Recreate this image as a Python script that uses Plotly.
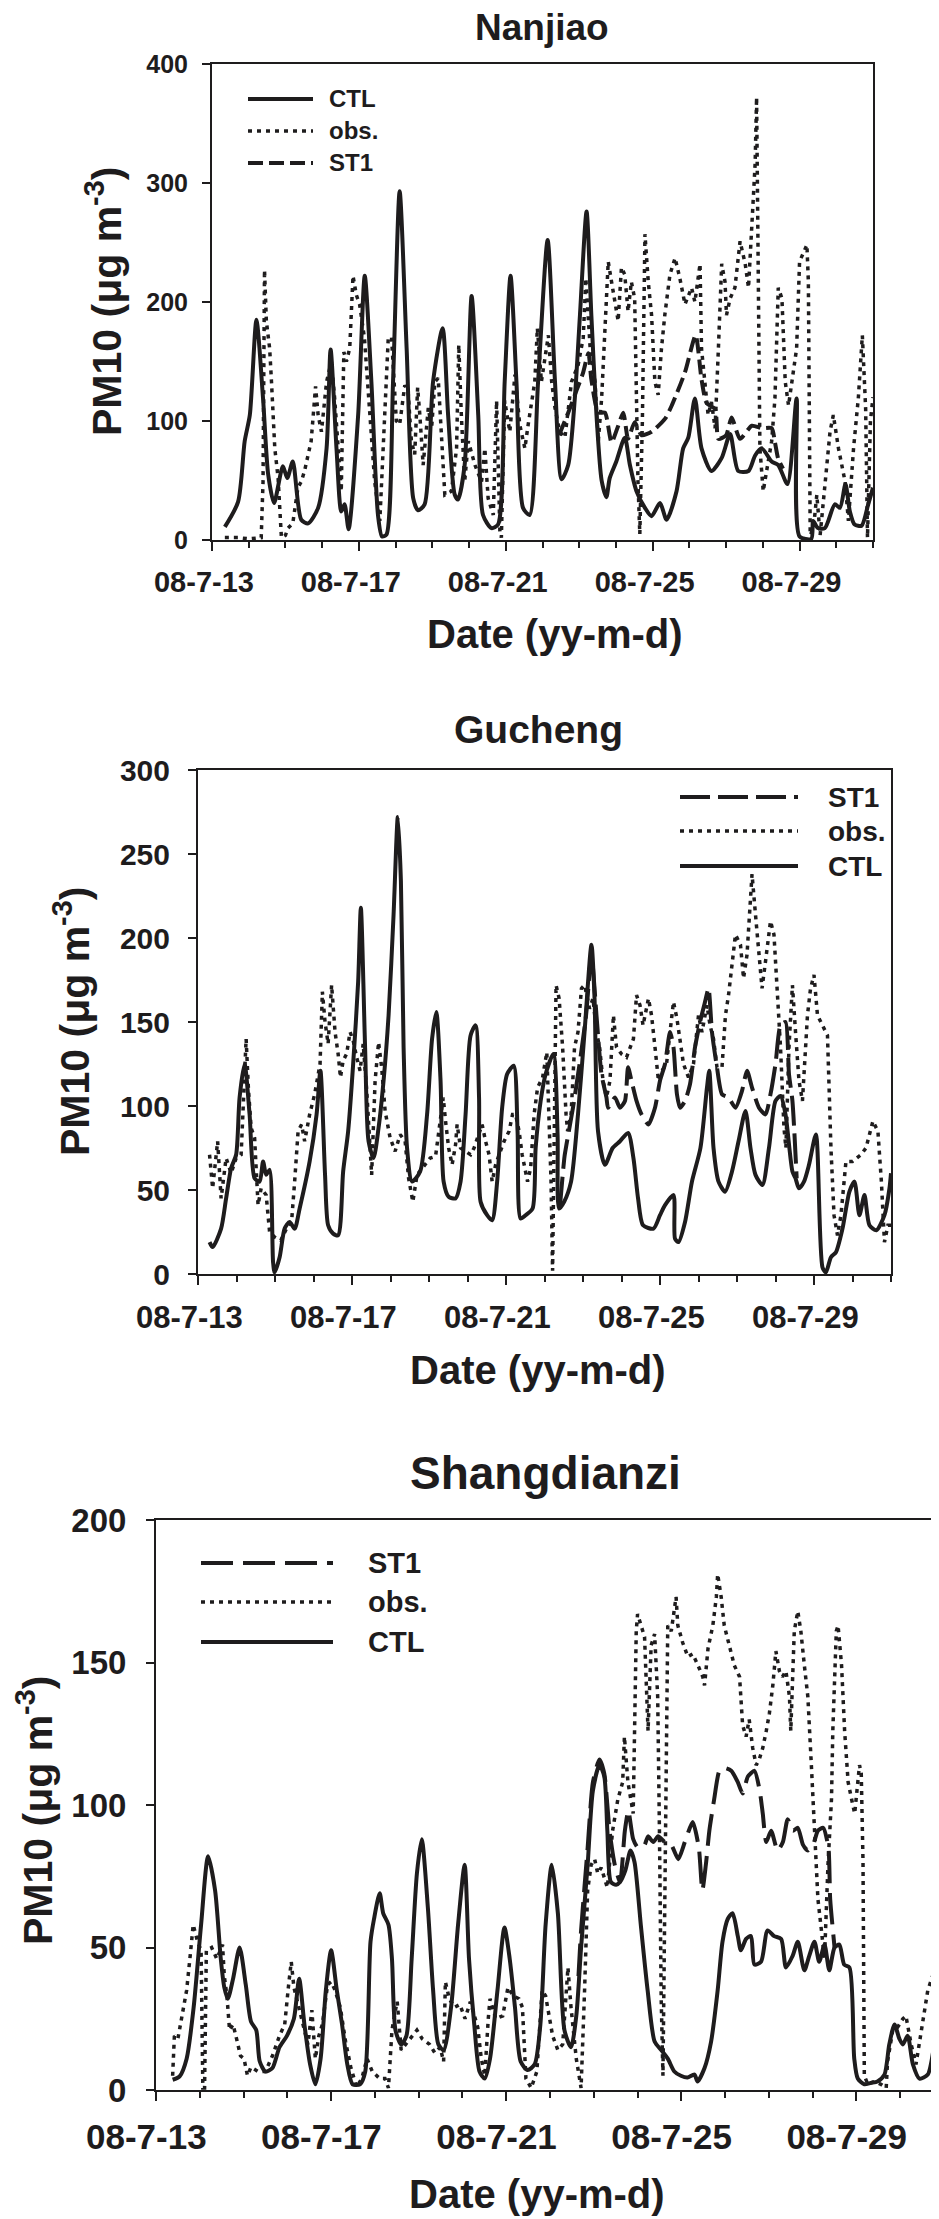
import plotly.graph_objects as go

W, H = 939, 2219
FONT = "Liberation Sans"
INK = "#1e1c1d"

date_ticks = [0, 4, 8, 12, 16]
date_labels = ["08-7-13", "08-7-17", "08-7-21", "08-7-25", "08-7-29"]
series_names = ["CTL", "obs.", "ST1"]

# ---------------- Nanjiao (time = days after 08-7-13 00:00) ----------------
nj_ctl_t = [0.35, 0.71, 0.89, 1.03, 1.21, 1.39, 1.53, 1.69, 1.93, 2.05, 2.2, 2.43, 2.62, 2.89, 3.12, 3.23,
            3.39, 3.52, 3.61, 3.72, 3.98, 4.16, 4.34, 4.52, 4.63, 4.75, 4.93, 5.11, 5.3, 5.48, 5.61, 5.79,
            6.02, 6.28, 6.43, 6.61, 6.7, 6.88, 7.07, 7.25, 7.38, 7.61, 7.79, 7.97, 8.13, 8.29, 8.47, 8.65,
            8.88, 9.14, 9.34, 9.52, 9.7, 9.88, 10.02, 10.2, 10.33, 10.47, 10.61, 10.74, 10.83, 11.01, 11.24,
            11.38, 11.56, 11.79, 11.97, 12.2, 12.38, 12.65, 12.83, 12.97, 13.15, 13.33, 13.6, 13.88, 14.11,
            14.33, 14.61, 14.79, 14.97, 15.24, 15.42, 15.67, 15.92, 16.0, 16.32, 16.37, 16.5, 16.69, 16.96,
            17.1, 17.25, 17.37, 17.5, 17.69, 17.87, 18.0]
nj_ctl_v = [11, 32, 83, 105, 185, 119, 55, 31, 62, 52, 66, 17, 14, 27, 77, 160,
            77, 24, 30, 9, 105, 222, 133, 21, 3, 4.5, 133, 293, 161, 35, 25, 30,
            133, 178, 105, 38, 34, 63, 205, 105, 21, 10, 13, 133, 222, 133, 27, 21,
            133, 252, 133, 51, 63, 119, 189, 276, 189, 105, 50, 36, 52, 66, 86,
            63, 41, 27, 20, 31, 17, 41, 77, 86, 119, 77, 58, 69, 89,
            58, 58, 71, 77, 66, 63, 47, 119, 3, 1, 16, 10, 10, 30,
            27, 47, 24, 13, 12, 30, 44]
nj_obs_t = [0.35, 0.71, 1.0, 1.21, 1.34, 1.39, 1.43, 1.48, 1.57, 1.62, 1.71, 1.8, 1.89, 2.0, 2.07, 2.2, 2.34,
            2.43, 2.52, 2.7, 2.82, 2.89, 2.98, 3.12, 3.25, 3.34, 3.43, 3.52, 3.59, 3.66, 3.75, 3.84, 3.93,
            4.02, 4.15, 4.3, 4.43, 4.57, 4.8, 4.89, 5.02, 5.11, 5.25, 5.34, 5.43, 5.52, 5.6, 5.66, 5.75,
            5.89, 5.98, 6.07, 6.16, 6.34, 6.52, 6.66, 6.72, 6.79, 6.88, 6.98, 7.16, 7.34, 7.43, 7.52, 7.66,
            7.75, 7.84, 7.88, 7.97, 8.11, 8.25, 8.38, 8.52, 8.61, 8.79, 8.86, 8.97, 9.16, 9.25, 9.34, 9.47,
            9.61, 9.79, 9.97, 10.11, 10.18, 10.3, 10.43, 10.52, 10.61, 10.7, 10.79, 10.88, 10.97, 11.06,
            11.15, 11.24, 11.33, 11.42, 11.51, 11.6, 11.65, 11.72, 11.79, 11.88, 11.97, 12.06, 12.15, 12.24,
            12.33, 12.47, 12.61, 12.74, 12.88, 13.06, 13.15, 13.24, 13.29, 13.33, 13.42, 13.51, 13.6, 13.7,
            13.79, 13.88, 13.97, 14.01, 14.11, 14.24, 14.38, 14.52, 14.61, 14.7, 14.79, 14.83, 14.88, 14.92,
            15.01, 15.1, 15.24, 15.33, 15.42, 15.52, 15.61, 15.7, 15.79, 15.92, 16.0, 16.2, 16.24, 16.29,
            16.38, 16.47, 16.56, 16.69, 16.83, 16.92, 17.06, 17.24, 17.33, 17.47, 17.6, 17.71, 17.8, 17.85,
            17.93, 18.0]
nj_obs_v = [2, 2, 1, 2, 2, 49, 227, 184, 161, 133, 77, 52, 2, 4, 10, 14, 44,
            49, 58, 83, 129, 105, 91, 133, 150, 119, 77, 41, 158, 150, 161, 222, 206,
            198, 170, 110, 49, 16, 170, 170, 100, 97, 130, 125, 83, 72, 128, 105, 63,
            111, 94, 133, 136, 38, 41, 77, 164, 105, 49, 83, 63, 49, 77, 35, 21,
            117, 7, 2, 117, 91, 139, 97, 77, 97, 133, 178, 133, 172, 133, 111, 91,
            86, 133, 147, 170, 220, 160, 133, 83, 119, 175, 234, 217, 200, 184,
            229, 223, 192, 217, 203, 49, 5, 100, 257, 217, 189, 133, 122, 161,
            189, 223, 237, 220, 198, 212, 200, 223, 232, 161, 133, 105, 116, 94,
            161, 232, 217, 189, 203, 212, 251, 232, 212, 260, 316, 372, 217, 77,
            41, 58, 83, 119, 212, 203, 133, 113, 133, 161, 234, 248, 217, 4,
            10, 38, 4, 49, 91, 105, 77, 49, 16, 77, 119, 172, 110, 2,
            100, 120]
nj_st1_t = [9.45, 9.7, 9.93, 10.1, 10.25, 10.33, 10.52, 10.7, 10.88, 11.05, 11.2, 11.33, 11.51, 11.7, 11.97,
            12.34, 12.52, 12.88, 13.17, 13.33, 13.47, 13.7, 13.79, 14.0, 14.15, 14.38, 14.7, 14.97, 15.24,
            15.33, 15.42, 15.55]
nj_st1_v = [88, 107, 126, 140, 157, 135, 107, 107, 82, 95, 107, 85, 99, 88, 91,
            102, 113, 141, 172, 135, 115, 110, 85, 88, 103, 85, 96, 94, 94,
            82, 68, 60]

# ---------------- Gucheng ----------------
gc_ctl_t = [0.3, 0.38, 0.6, 0.73, 0.86, 0.99, 1.08, 1.21, 1.34, 1.47, 1.6, 1.69, 1.77, 1.86, 1.95, 1.99,
            2.12, 2.25, 2.38, 2.51, 2.64, 2.9, 3.08, 3.18, 3.3, 3.38, 3.51, 3.64, 3.77, 3.9, 4.03, 4.16,
            4.23, 4.34, 4.43, 4.56, 4.69, 4.82, 4.95, 5.08, 5.19, 5.27, 5.34, 5.43, 5.56, 5.77, 5.95, 6.08,
            6.19, 6.3, 6.38, 6.51, 6.69, 6.82, 6.95, 7.08, 7.21, 7.3, 7.34, 7.51, 7.64, 7.77, 7.9, 8.03,
            8.2, 8.3, 8.38, 8.51, 8.69, 8.77, 8.9, 9.03, 9.23, 9.34, 9.38, 9.51, 9.69, 9.87, 10.04, 10.22,
            10.3, 10.39, 10.57, 10.77, 10.96, 11.17, 11.31, 11.43, 11.56, 11.83, 12.0, 12.13, 12.35, 12.39,
            12.48, 12.65, 12.83, 13.05, 13.22, 13.28, 13.39, 13.52, 13.69, 13.87, 14.04, 14.22, 14.35,
            14.48, 14.66, 14.83, 15.0, 15.13, 15.26, 15.44, 15.52, 15.61, 15.74, 15.87, 16.05, 16.22,
            16.31, 16.44, 16.57, 16.74, 16.92, 17.05, 17.18, 17.31, 17.44, 17.62, 17.83, 17.96, 18.0]
gc_ctl_v = [19, 16, 27, 45, 63, 71, 105, 125, 95, 57, 55, 67, 59, 62, 7, 1,
            10, 27, 31, 27, 39, 67, 95, 121, 59, 29, 24, 23, 61, 85, 125, 174,
            218, 135, 79, 69, 87, 115, 154, 214, 272, 234, 135, 75, 55, 61, 95, 140,
            156, 115, 55, 46, 45, 55, 95, 142, 148, 105, 43, 35, 32, 55, 99, 119,
            124, 85, 33, 35, 39, 75, 103, 119, 131, 83, 39, 43, 55, 95, 144, 196,
            164, 85, 65, 75, 79, 84, 69, 45, 29, 27, 35, 41, 47, 21,
            19, 31, 55, 75, 111, 121, 75, 55, 49, 61, 79, 97, 75,
            59, 53, 75, 103, 106, 95, 61, 57, 51, 55, 65, 83, 4,
            1, 10, 13, 27, 49, 55, 35, 47, 29, 26, 35, 51, 60]
gc_obs_t = [0.3, 0.38, 0.51, 0.6, 0.73, 0.86, 0.99, 1.12, 1.25, 1.31, 1.38, 1.47, 1.56, 1.64, 1.77, 1.86,
            1.99, 2.15, 2.34, 2.43, 2.51, 2.6, 2.69, 2.77, 2.9, 3.03, 3.17, 3.23, 3.3, 3.38, 3.47, 3.56,
            3.64, 3.7, 3.77, 3.86, 3.95, 4.03, 4.12, 4.21, 4.29, 4.38, 4.47, 4.51, 4.6, 4.69, 4.77, 4.86,
            4.99, 5.12, 5.25, 5.38, 5.47, 5.58, 5.69, 5.82, 6.03, 6.17, 6.3, 6.37, 6.43, 6.51, 6.6, 6.69,
            6.73, 6.82, 6.95, 7.08, 7.17, 7.3, 7.38, 7.47, 7.56, 7.64, 7.73, 7.82, 7.95, 8.08, 8.17, 8.25,
            8.34, 8.42, 8.56, 8.64, 8.73, 8.82, 8.95, 9.06, 9.17, 9.21, 9.3, 9.38, 9.47, 9.56, 9.6, 9.69,
            9.78, 9.87, 9.96, 10.04, 10.17, 10.26, 10.35, 10.43, 10.52, 10.61, 10.7, 10.79, 10.87, 11.0,
            11.13, 11.31, 11.39, 11.48, 11.56, 11.7, 11.78, 11.87, 11.96, 12.05, 12.17, 12.26, 12.35,
            12.44, 12.52, 12.61, 12.74, 12.87, 13.0, 13.09, 13.22, 13.3, 13.39, 13.48, 13.61, 13.7, 13.78,
            13.87, 13.96, 14.09, 14.17, 14.26, 14.35, 14.39, 14.48, 14.57, 14.65, 14.74, 14.87, 14.96,
            15.04, 15.13, 15.22, 15.27, 15.35, 15.44, 15.52, 15.61, 15.7, 15.83, 15.91, 16.0, 16.09, 16.22,
            16.35, 16.44, 16.52, 16.61, 16.7, 16.83, 17.0, 17.22, 17.35, 17.53, 17.66, 17.75, 17.83, 17.92,
            18.0]
gc_obs_v = [71, 51, 79, 45, 69, 60, 69, 71, 140, 110, 87, 81, 41, 51, 47, 25,
            22, 20, 29, 31, 55, 85, 89, 79, 95, 107, 125, 168, 150, 137, 172, 144,
            131, 117, 127, 131, 144, 139, 129, 121, 137, 110, 75, 59, 115, 138, 123, 97,
            81, 73, 83, 79, 57, 43, 59, 63, 69, 70, 91, 105, 91, 75, 65, 77,
            89, 75, 73, 71, 75, 83, 89, 79, 71, 55, 65, 71, 79, 85, 95, 95,
            85, 71, 55, 63, 95, 111, 117, 132, 55, 2, 172, 164, 135, 95, 85, 95,
            135, 144, 170, 172, 158, 164, 144, 135, 115, 105, 115, 154, 135, 131,
            129, 140, 166, 160, 148, 164, 154, 135, 115, 121, 125, 144, 162,
            152, 140, 125, 117, 125, 154, 144, 160, 148, 140, 123, 123, 154, 166,
            186, 202, 196, 176, 190, 226, 238, 214, 190, 170, 186, 210, 202,
            174, 135, 87, 75, 135, 172, 144, 115, 103, 154, 170, 178, 154, 148,
            142, 75, 35, 23, 35, 67, 67, 71, 75, 91, 85, 55, 19, 29,
            29]
gc_st1_t = [9.4, 9.52, 9.57, 9.74, 9.91, 10.08, 10.22, 10.35, 10.48, 10.61, 10.65, 10.83, 10.96, 11.09,
            11.17, 11.26, 11.39, 11.52, 11.7, 11.87, 12.0, 12.13, 12.26, 12.35, 12.44, 12.52, 12.65, 12.78,
            12.91, 13.04, 13.17, 13.26, 13.35, 13.48, 13.61, 13.78, 13.96, 14.13, 14.26, 14.39, 14.57,
            14.74, 14.87, 15.0, 15.13, 15.26, 15.35, 15.44, 15.55]
gc_st1_v = [40, 70, 77, 99, 125, 154, 190, 154, 119, 105, 99, 105, 99, 103,
            123, 115, 103, 95, 89, 99, 115, 125, 144, 135, 107, 99, 103, 113,
            135, 150, 162, 170, 144, 123, 107, 105, 99, 109, 121, 111, 99,
            95, 107, 125, 148, 150, 119, 103, 57]

# ---------------- Shangdianzi ----------------
sd_ctl_t = [0.38, 0.54, 0.7, 0.86, 1.03, 1.19, 1.35, 1.48, 1.56, 1.64, 1.76, 1.91, 2.05, 2.17, 2.29, 2.37,
            2.5, 2.66, 2.82, 2.99, 3.15, 3.27, 3.39, 3.52, 3.64, 3.76, 3.88, 4.0, 4.13, 4.25, 4.37, 4.49,
            4.66, 4.78, 4.9, 4.98, 5.11, 5.19, 5.31, 5.39, 5.47, 5.6, 5.72, 5.84, 5.96, 6.07, 6.21, 6.33,
            6.45, 6.57, 6.74, 6.9, 7.05, 7.15, 7.27, 7.39, 7.51, 7.63, 7.8, 7.96, 8.08, 8.2, 8.33, 8.49,
            8.65, 8.78, 8.9, 9.04, 9.18, 9.33, 9.48, 9.6, 9.71, 9.86, 9.98, 10.13, 10.24, 10.31, 10.39,
            10.51, 10.6, 10.72, 10.84, 10.93, 11.08, 11.23, 11.39, 11.54, 11.69, 11.84, 11.99, 12.14, 12.3,
            12.37, 12.53, 12.68, 12.83, 12.94, 13.06, 13.17, 13.29, 13.36, 13.48, 13.59, 13.67, 13.82,
            13.97, 14.12, 14.28, 14.39, 14.54, 14.66, 14.81, 14.92, 15.04, 15.15, 15.27, 15.38, 15.5,
            15.61, 15.72, 15.84, 15.95, 16.03, 16.18, 16.33, 16.48, 16.64, 16.75, 16.87, 16.98, 17.06,
            17.17, 17.29, 17.44, 17.63, 17.78, 17.89, 18.0]
sd_ctl_v = [3.6, 4.8, 11, 29, 58, 82, 70, 46, 36, 32, 39, 50, 37, 24, 21, 10,
            6.5, 7.7, 15, 19, 25, 39, 23, 9, 2, 11, 35, 49, 35, 23, 9, 2,
            2, 6.5, 52, 60, 69, 62, 58, 46, 21, 16, 19, 46, 76, 88, 64, 35,
            16, 14, 29, 58, 79, 46, 23, 6.5, 4, 11, 35, 57, 46, 29, 10, 7,
            9, 23, 58, 79, 62, 21, 15, 26, 50, 79, 105, 114, 110, 91, 73,
            72, 73, 77, 84, 80, 57, 35, 17, 14, 11, 6.5, 5, 4.4, 5.4,
            3, 7.7, 17, 35, 52, 60, 62, 54, 49, 53, 54, 44, 45,
            56, 54, 53, 43, 47, 52, 42, 47, 52, 45, 51, 42, 50,
            51, 44, 43, 11, 4, 2, 2.5, 3, 5.4, 16, 23, 18, 16,
            19, 9, 4, 5.4, 16, 24, 25]
sd_obs_t = [0.38, 0.42, 0.5, 0.62, 0.7, 0.78, 0.85, 0.95, 1.03, 1.07, 1.11, 1.15, 1.27, 1.39, 1.52, 1.56,
            1.62, 1.68, 1.76, 1.84, 1.93, 2.01, 2.09, 2.17, 2.33, 2.5, 2.66, 2.82, 2.94, 3.03, 3.09, 3.15,
            3.23, 3.35, 3.47, 3.56, 3.64, 3.72, 3.8, 3.92, 4.0, 4.09, 4.21, 4.33, 4.45, 4.58, 4.7, 4.82,
            4.94, 5.11, 5.23, 5.31, 5.39, 5.47, 5.51, 5.6, 5.76, 5.96, 6.08, 6.25, 6.37, 6.49, 6.57, 6.61,
            6.7, 6.82, 6.94, 7.06, 7.18, 7.35, 7.43, 7.51, 7.59, 7.63, 7.76, 7.92, 8.04, 8.16, 8.29, 8.37,
            8.45, 8.57, 8.7, 8.82, 8.9, 8.98, 9.06, 9.18, 9.29, 9.41, 9.48, 9.6, 9.71, 9.79, 9.86, 9.94,
            10.02, 10.09, 10.17, 10.31, 10.43, 10.55, 10.66, 10.7, 10.78, 10.9, 10.97, 11.0, 11.08, 11.16,
            11.24, 11.31, 11.39, 11.46, 11.5, 11.54, 11.58, 11.62, 11.69, 11.77, 11.88, 11.92, 12.03, 12.15,
            12.26, 12.38, 12.49, 12.53, 12.61, 12.72, 12.8, 12.83, 12.91, 12.98, 13.1, 13.21, 13.33, 13.4,
            13.48, 13.55, 13.63, 13.71, 13.78, 13.86, 13.94, 14.01, 14.09, 14.16, 14.24, 14.31, 14.39,
            14.47, 14.5, 14.58, 14.66, 14.73, 14.81, 14.89, 14.97, 15.04, 15.12, 15.2, 15.27, 15.35, 15.43,
            15.46, 15.54, 15.58, 15.66, 15.73, 15.81, 15.89, 15.96, 16.07, 16.11, 16.15, 16.18, 16.26,
            16.41, 16.56, 16.68, 16.71, 16.83, 16.94, 17.06, 17.13, 17.25, 17.36, 17.44, 17.55, 17.63,
            17.74, 17.85, 17.97]
sd_obs_v = [5, 19, 18, 29, 35, 47, 58, 52, 49, 0.7, 0.7, 49, 50, 46, 51, 40,
            33, 21, 23, 18, 12, 11, 5, 8, 6.5, 6.5, 12, 19, 23, 37, 45, 36,
            31, 23, 16, 28, 11, 19, 23, 37, 38, 35, 29, 17, 8, 1, 4, 11,
            6.5, 4, 4, 0.7, 21, 28, 31, 14, 17, 21, 18, 16, 13, 15, 10, 38,
            32, 29, 30, 25, 31, 22, 11, 5, 25, 32, 25, 26, 36, 33, 32, 29,
            4, 0.7, 6.5, 35, 33, 26, 19, 14, 16, 43, 29, 11, 0.7, 35, 70, 79,
            81, 76, 78, 71, 91, 102, 108, 124, 108, 97, 161, 167, 163, 159,
            126, 156, 160, 138, 91, 32, 5, 60, 163, 161, 173, 163, 157, 152,
            153, 149, 145, 142, 155, 163, 173, 181, 173, 163, 156, 149, 145, 128,
            124, 130, 120, 114, 116, 120, 126, 132, 142, 154, 147, 145, 147,
            138, 126, 161, 168, 161, 149, 138, 114, 91, 67, 56, 46, 79, 102,
            126, 161, 163, 149, 126, 108, 102, 97, 114, 111, 80, 5, 2,
            3, 2, 0.7, 10, 21, 22, 25, 26, 16, 9, 17, 28, 35,
            40, 42, 45]
sd_st1_t = [9.65, 9.71, 9.86, 9.98, 10.13, 10.24, 10.36, 10.48, 10.6, 10.71, 10.79, 10.9, 11.01, 11.16,
            11.24, 11.36, 11.47, 11.62, 11.77, 11.93, 12.08, 12.26, 12.4, 12.48, 12.56, 12.64, 12.75, 12.87,
            12.98, 13.14, 13.29, 13.4, 13.52, 13.67, 13.79, 13.86, 13.94, 14.05, 14.2, 14.32, 14.43, 14.55,
            14.66, 14.78, 14.89, 15.01, 15.12, 15.24, 15.36, 15.4, 15.5]
sd_st1_v = [40, 56, 85, 108, 116, 111, 91, 79, 73, 91, 98, 88, 85, 86,
            89, 87, 89, 87, 86, 81, 87, 94, 85, 70, 79, 91, 102, 112,
            113, 112, 108, 104, 110, 112, 105, 97, 87, 91, 84, 87, 95, 91,
            92, 86, 84, 86, 91, 92, 85, 67, 50]


def px(x):
    return x / W


def py(y):
    return 1 - y / H


# the printed date labels sit a little left of their ticks: pad them on the right
tick_text = [s + "\u00a0\u00a0" for s in date_labels]

# panel geometry in screen pixels: left, right, top, bottom
panels = [
    dict(name="Nanjiao", box=(204, 865, 56, 532), ymax=400, ydt=100,
         ctl=(nj_ctl_t, nj_ctl_v), obs=(nj_obs_t, nj_obs_v), st1=(nj_st1_t, nj_st1_v),
         ytf=25, xtf=29, title_font=37, title_xy=(534, 20),
         ytitle_xy=(96, 294), xtitle_xy=(547, 626), dash="15px,6px",
         legend=dict(x0=240, x1=305, xt=319, rows=[91, 123, 155], order=["CTL", "obs.", "ST1"], fs=24),
         xstand=6, ystand=9),
    dict(name="Gucheng", box=(190, 883, 762, 1266), ymax=300, ydt=50,
         ctl=(gc_ctl_t, gc_ctl_v), obs=(gc_obs_t, gc_obs_v), st1=(gc_st1_t, gc_st1_v),
         ytf=30, xtf=31, title_font=39, title_xy=(530, 721),
         ytitle_xy=(64, 1014), xtitle_xy=(530, 1362), dash="30px,8px",
         legend=dict(x0=672, x1=790, xt=818, rows=[789, 823, 858], order=["ST1", "obs.", "CTL"], fs=28),
         xstand=6, ystand=12),
    dict(name="Shangdianzi", box=(148, 936, 1512, 2082), ymax=200, ydt=50,
         ctl=(sd_ctl_t, sd_ctl_v), obs=(sd_obs_t, sd_obs_v), st1=(sd_st1_t, sd_st1_v),
         ytf=33, xtf=35, title_font=46, title_xy=(537, 1465),
         ytitle_xy=(27, 1803), xtitle_xy=(529, 2186), dash="32px,10px",
         legend=dict(x0=193, x1=325, xt=358, rows=[1555, 1594, 1634], order=["ST1", "obs.", "CTL"], fs=29),
         xstand=6, ystand=13),
]

fig = go.Figure()
shapes = []
annotations = []
layout = dict(template="none", width=W, height=H,
              margin=dict(l=0, r=0, t=0, b=0, pad=0, autoexpand=False),
              paper_bgcolor="white", plot_bgcolor="white", showlegend=False,
              font=dict(family=FONT, color=INK))

OBS_DASH = "4px,5px"
for i, p in enumerate(panels):
    sfx = "" if i == 0 else str(i + 1)
    xa, ya = "x" + sfx, "y" + sfx
    l, r, t, b = p["box"]
    ctl_w, obs_w, st1_w = 4, 3.5, 4
    fig.add_trace(go.Scatter(x=p["obs"][0], y=p["obs"][1], mode="lines", name="obs.",
                             line=dict(color=INK, width=obs_w, dash=OBS_DASH),
                             xaxis=xa, yaxis=ya))
    fig.add_trace(go.Scatter(x=p["st1"][0], y=p["st1"][1], mode="lines", name="ST1",
                             line=dict(color=INK, width=st1_w, dash=p["dash"], shape="spline", smoothing=0.6),
                             xaxis=xa, yaxis=ya))
    fig.add_trace(go.Scatter(x=p["ctl"][0], y=p["ctl"][1], mode="lines", name="CTL",
                             line=dict(color=INK, width=ctl_w, shape="spline", smoothing=0.7),
                             xaxis=xa, yaxis=ya))
    layout["xaxis" + sfx] = dict(
        domain=[px(l), px(r)], anchor=ya, range=[0, 18], automargin=False,
        tickmode="array", tickvals=date_ticks, ticktext=tick_text,
        ticks="outside", ticklen=9, tickwidth=2, tickcolor=INK,
        showline=True, linecolor=INK, linewidth=2, mirror=True,
        showgrid=False, zeroline=False, ticklabelstandoff=p["xstand"],
        tickfont=dict(family=FONT, size=p["xtf"], color=INK, weight="bold"),
        minor=dict(tickmode="linear", tick0=0, dtick=1, ticks="outside", ticklen=6,
                   tickwidth=2, tickcolor=INK, showgrid=False),
    )
    layout["yaxis" + sfx] = dict(
        domain=[py(b), py(t)], anchor=xa, range=[0, p["ymax"]], automargin=False,
        tickmode="linear", tick0=0, dtick=p["ydt"],
        ticks="outside", ticklen=8, tickwidth=2, tickcolor=INK,
        showline=True, linecolor=INK, linewidth=2, mirror=True,
        showgrid=False, zeroline=False, ticklabelstandoff=p["ystand"],
        tickfont=dict(family=FONT, size=p["ytf"], color=INK, weight="bold"),
    )
    # titles
    annotations.append(dict(text=p["name"], x=px(p["title_xy"][0]), y=py(p["title_xy"][1]),
                            xref="paper", yref="paper", showarrow=False, xanchor="center", yanchor="middle",
                            font=dict(family=FONT, size=p["title_font"], color=INK, weight="bold")))
    annotations.append(dict(text="PM10 (\u03bcg m<sup>-3</sup>)", textangle=-90,
                            x=px(p["ytitle_xy"][0]), y=py(p["ytitle_xy"][1]),
                            xref="paper", yref="paper", showarrow=False, xanchor="center", yanchor="middle",
                            font=dict(family=FONT, size=41, color=INK, weight="bold")))
    annotations.append(dict(text="Date (yy-m-d)", x=px(p["xtitle_xy"][0]), y=py(p["xtitle_xy"][1]),
                            xref="paper", yref="paper", showarrow=False, xanchor="center", yanchor="middle",
                            font=dict(family=FONT, size=40, color=INK, weight="bold")))
    # legend
    lg = p["legend"]
    for name, row in zip(lg["order"], lg["rows"]):
        if name == "CTL":
            dash, w = "solid", ctl_w
        elif name == "obs.":
            dash, w = OBS_DASH, obs_w
        else:
            dash, w = p["dash"], st1_w
        shapes.append(dict(type="line", xref="paper", yref="paper",
                           x0=px(lg["x0"]), x1=px(lg["x1"]), y0=py(row), y1=py(row),
                           line=dict(color=INK, width=w, dash=dash)))
        annotations.append(dict(text=name, x=px(lg["xt"]), y=py(row), xref="paper", yref="paper",
                                showarrow=False, xanchor="left", yanchor="middle",
                                font=dict(family=FONT, size=lg["fs"], color=INK, weight="bold")))

layout["shapes"] = shapes
layout["annotations"] = annotations
fig.update_layout(**layout)
fig.write_html("out.html")
